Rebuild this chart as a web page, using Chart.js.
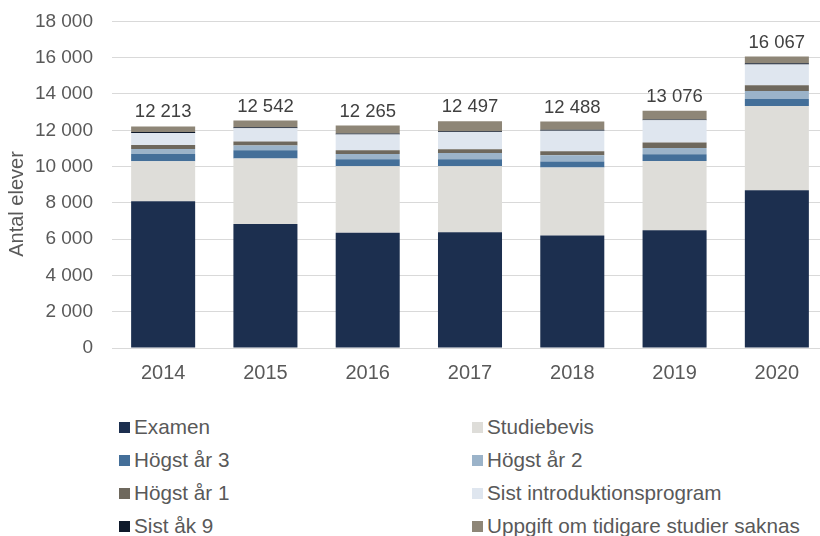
<!DOCTYPE html>
<html>
<head>
<meta charset="utf-8">
<script src="https://cdn.jsdelivr.net/npm/chart.js@4/dist/chart.umd.min.js"></script>
<style>
  html, body { margin:0; padding:0; background:#fff; overflow:hidden; width:820px; height:536px; }
  #wrap { position:relative; width:820px; height:536px; overflow:hidden; }
  #c { position:absolute; left:0; top:-9px; }
  .lg { position:absolute; font-family:"Liberation Sans", Arial, sans-serif; font-size:20.7px; color:#595959; line-height:20px; white-space:nowrap; }
  .lg i { position:absolute; left:0; top:5px; width:11px; height:11px; }
  .lg span { margin-left:15px; }
</style>
</head>
<body>
<div id="wrap">
  <canvas id="c" width="828" height="409"></canvas>
  <div id="legend"></div>
</div>
<script>
// data
const years = ["2014","2015","2016","2017","2018","2019","2020"];
const examen       = [8090, 6840, 6345, 6385, 6200, 6495, 8695];
const studiebevis  = [2200, 3600, 3670, 3630, 3745, 3815, 4640];
const hogstAr3     = [400, 460, 385, 385, 330, 365, 385];
const hogstAr2     = [280, 255, 290, 350, 345, 350, 440];
const hogstAr1     = [220, 220, 210, 200, 220, 295, 315];
const sistIntro    = [660, 735, 860, 955, 1140, 1230, 1155];
const sistAk9      = [60, 55, 60, 40, 50, 50, 60];
const uppgiftSaknas= [303, 377, 445, 552, 458, 476, 377];
const yTicks = [0, 2000, 4000, 6000, 8000, 10000, 12000, 14000, 16000, 18000];

const series = [
  { label:"Examen", data:examen, color:"#1c2f4f" },
  { label:"Studiebevis", data:studiebevis, color:"#deddd9" },
  { label:"Högst år 3", data:hogstAr3, color:"#446f99" },
  { label:"Högst år 2", data:hogstAr2, color:"#9bb3c9" },
  { label:"Högst år 1", data:hogstAr1, color:"#6e685d" },
  { label:"Sist introduktionsprogram", data:sistIntro, color:"#dfe6ef" },
  { label:"Sist åk 9", data:sistAk9, color:"#0f1a2b" },
  { label:"Uppgift om tidigare studier saknas", data:uppgiftSaknas, color:"#8e8677" }
];

const fmt = (v) => String(v).replace(/\B(?=(\d{3})+(?!\d))/g, " ");
const FONT = "'Liberation Sans', Arial, sans-serif";

// totals above each stack + y axis title
const extrasPlugin = {
  id: "extras",
  afterDatasetsDraw(chart){
    const ctx = chart.ctx;
    const y = chart.scales.y;
    const meta0 = chart.getDatasetMeta(0);
    ctx.save();
    ctx.font = "18.5px " + FONT;
    ctx.fillStyle = "#404040";
    ctx.textAlign = "center";
    ctx.textBaseline = "middle";
    years.forEach((yr, i) => {
      let sum = 0;
      series.forEach(s => sum += s.data[i]);
      ctx.fillText(fmt(sum), meta0.data[i].x, y.getPixelForValue(sum) - 14);
    });
    // axis title, sits a bit below the plot centre like the original
    ctx.font = "20px " + FONT;
    ctx.fillStyle = "#595959";
    ctx.translate(17, 213);
    ctx.rotate(-Math.PI / 2);
    ctx.fillText("Antal elever", 0, 0);
    ctx.restore();
  }
};

new Chart(document.getElementById("c"), {
  type: "bar",
  data: {
    labels: years,
    datasets: series.map(s => ({
      label: s.label, data: s.data, backgroundColor: s.color,
      borderWidth: 0, barPercentage: 0.626, categoryPercentage: 1
    }))
  },
  options: {
    responsive: false,
    animation: false,
    layout: { padding: { top: 5, left: 0, right: 0, bottom: 0 } },
    plugins: { legend: { display:false }, tooltip: { enabled:false } },
    scales: {
      x: {
        stacked: true,
        grid: { display:false, drawTicks:false },
        border: { color:"#d9d9d9", width:1 },
        ticks: { color:"#595959", font:{ family:FONT, size:20 }, padding:13 },
        afterFit(s){ s.height = 52; }
      },
      y: {
        stacked: true,
        min: 0, max: 18000,
        afterBuildTicks(s){ s.ticks = yTicks.map(v => ({ value:v })); },
        grid: { color:"#d9d9d9", lineWidth:1, drawTicks:false },
        border: { display:false },
        ticks: { color:"#595959", font:{ family:FONT, size:19 }, padding:19, callback:(v) => fmt(v) },
        afterFit(s){ s.width = 112; }
      }
    }
  },
  plugins: [extrasPlugin]
});

// legend in two columns
const lg = document.getElementById("legend");
const rowsY = [417, 450, 483, 516];
series.forEach((s, i) => {
  const d = document.createElement("div");
  d.className = "lg";
  d.style.left = (i % 2 === 0 ? 119 : 472) + "px";
  d.style.top = rowsY[Math.floor(i / 2)] + "px";
  d.innerHTML = `<i style="background:${s.color}"></i><span>${s.label}</span>`;
  lg.appendChild(d);
});
</script>
</body>
</html>
